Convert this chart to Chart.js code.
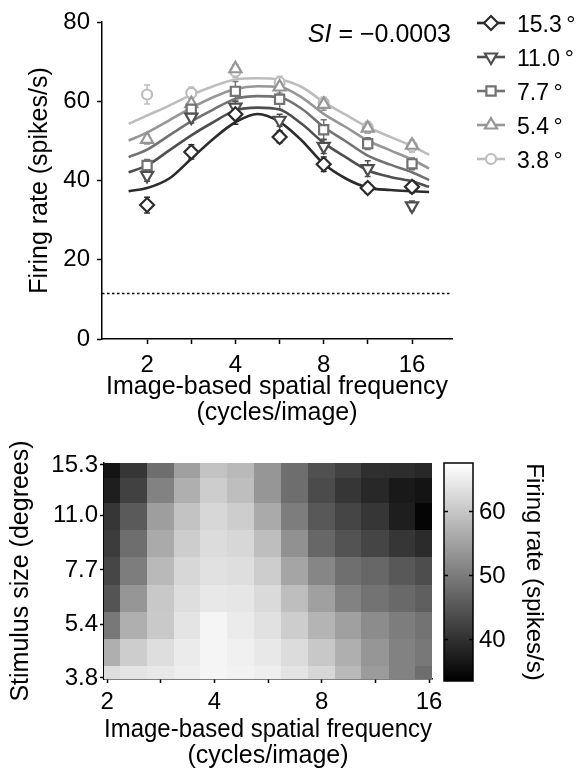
<!DOCTYPE html>
<html>
<head>
<meta charset="utf-8">
<script src="https://cdn.jsdelivr.net/npm/chart.js@4.4.1/dist/chart.umd.min.js"></script>
<style>
  html, body { margin: 0; padding: 0; background: #fff; }
  #tuning { position: absolute; left: 0; top: 0; }
  #heat { position: absolute; left: 0; top: 430px; }
</style>
</head>
<body>
<canvas id="tuning" width="584" height="430"></canvas>
<canvas id="heat" width="584" height="339"></canvas>
<script>
// Spatial frequency tuning at five stimulus sizes + size x SF heat map

// ---------------------------------------------------------------------------
// Data
// ---------------------------------------------------------------------------
const sfTicks = [2, 2.83, 4, 5.66, 8, 11.3, 16];
const sfLabels = ['2', '', '4', '', '8', '', '16'];

// measured points (spikes/s), one array per stimulus size
const sfData = [2, 2.83, 4, 5.66, 8, 11.3, 16];
const rate153 = [33.8, 47.2, 56.7, 51.0, 44.1, 38.1, 38.4];
const rate110 = [41.3, 56.0, 58.5, 55.2, 48.6, 43.0, 33.6];
const rate77 = [43.8, 58.0, 62.5, 60.5, 52.8, 49.3, 44.2];
const rate54 = [50.4, 59.4, 68.2, 63.6, 59.2, 53.2, 48.9];
const rate38 = [61.7, 62.1, 67.5, 64.8, 59.6, 53.4, 48.6];

const err153 = [2.0, 1.8, 2.5, 1.5, 1.8, 1.2, 1.5];
const err110 = [1.5, 1.5, 1.5, 1.5, 1.8, 2.0, 1.2];
const err77 = [1.5, 1.5, 2.5, 2.5, 2.5, 1.5, 1.5];
const err54 = [1.2, 1.5, 1.0, 1.5, 1.5, 1.2, 1.2];
const err38 = [2.4, 1.5, 1.5, 1.5, 1.5, 1.5, 1.5];

// fitted curves
const curveX = [1.73, 2, 2.38, 2.83, 3.36, 4, 4.76, 5.66, 6.73, 8, 9.51, 11.3, 13.5, 16, 18.3];
const fit153 = [37.3, 38.1, 40.5, 45.5, 50.5, 54.7, 56.8, 54.8, 50.1, 44.2, 40.5, 38.2, 37.6, 37.3, 37.1];
const fit110 = [42.1, 43.8, 47.6, 51.4, 54.7, 57.7, 58.4, 57.9, 54.3, 49.5, 45.9, 42.6, 40.9, 39.8, 38.4];
const fit77 = [45.9, 47.8, 51.4, 54.9, 57.9, 60.6, 61.3, 61.0, 58.1, 53.5, 49.9, 46.3, 44.0, 42.1, 40.1];
const fit54 = [50.1, 52.1, 55.2, 58.3, 61.0, 63.1, 63.8, 63.6, 61.0, 56.8, 53.5, 50.1, 47.6, 45.3, 43.0];
const fit38 = [54.3, 56.4, 58.9, 61.6, 63.8, 65.5, 65.8, 65.5, 63.6, 59.8, 56.6, 53.5, 51.0, 48.7, 46.5];

const baselineRate = 11.5;
const siText = ' = \u22120.0003';

// heat map grid (spikes/s), rows from 3.8 deg (bottom) to 15.3 deg (top)
const heatSF = [2, 2.38, 2.83, 3.36, 4, 4.76, 5.66, 6.73, 8, 9.51, 11.3, 13.5, 16];
const heatSizes = [3.8, 4.5, 5.4, 6.4, 7.7, 9.2, 11.0, 13.0, 15.3];
const sizeTicks = [3.8, 5.4, 7.7, 11.0, 15.3];
const sizeLabels = ['3.8', '5.4', '7.7', '11.0', '15.3'];
const row38 = [63.2, 64.0, 64.6, 65.3, 66.3, 65.9, 65.3, 64.0, 62.3, 58.3, 54.3, 51.0, 48.4];
const row45 = [57.0, 61.0, 63.2, 65.0, 66.3, 65.6, 64.6, 63.0, 60.3, 57.0, 53.7, 51.0, 49.7];
const row54 = [49.7, 57.0, 60.5, 64.0, 66.3, 65.0, 63.6, 61.0, 57.7, 55.0, 52.4, 50.4, 49.0];
const row64 = [45.0, 53.7, 60.3, 63.2, 64.6, 64.3, 62.7, 59.0, 55.0, 51.0, 49.0, 47.7, 46.4];
const row77 = [43.1, 50.4, 58.3, 62.3, 63.6, 63.2, 61.0, 55.7, 51.5, 48.5, 47.5, 45.5, 44.0];
const row92 = [41.8, 48.4, 56.3, 61.0, 63.0, 62.3, 59.0, 53.0, 47.5, 44.8, 43.0, 41.0, 39.5];
const row110 = [41.0, 45.7, 54.8, 59.6, 62.3, 61.0, 56.3, 50.4, 45.5, 43.0, 41.0, 37.8, 34.5];
const row130 = [37.8, 42.4, 51.0, 57.0, 61.0, 59.0, 53.7, 48.4, 43.7, 41.0, 39.1, 37.1, 36.5];
const row153 = [36.5, 41.0, 48.4, 55.0, 59.6, 58.3, 53.7, 48.4, 44.4, 42.4, 40.0, 39.8, 39.1];
const heatRows = [row38, row45, row54, row64, row77, row92, row110, row130, row153];

const cbMin = 33.8;
const cbMax = 67.6;
const cbTicks = [40, 50, 60];

// ---------------------------------------------------------------------------
// Styles
// ---------------------------------------------------------------------------
const FONT = "'Liberation Sans', Arial, Helvetica, sans-serif";
Chart.defaults.font.family = FONT;
Chart.defaults.font.size = 24;
Chart.defaults.color = '#000';

const series = [
    { label: '15.3\u2009\u00b0', mean: rate153, err: err153, fit: fit153, color: '#2b2b2b', style: 'rectRot', radius: 7, rotation: 0 },
    { label: '11.0\u2009\u00b0', mean: rate110, err: err110, fit: fit110, color: '#4f4f4f', style: 'triangle', radius: 7, rotation: 180 },
    { label: '7.7\u2009\u00b0', mean: rate77, err: err77, fit: fit77, color: '#727272', style: 'rect', radius: 6.5, rotation: 0 },
    { label: '5.4\u2009\u00b0', mean: rate54, err: err54, fit: fit54, color: '#969696', style: 'triangle', radius: 7, rotation: 0 },
    { label: '3.8\u2009\u00b0', mean: rate38, err: err38, fit: fit38, color: '#bdbdbd', style: 'circle', radius: 5, rotation: 0 }
];

const axisGrid = { drawOnChartArea: false, drawTicks: true, tickLength: 5, tickColor: '#000', tickWidth: 1.5 };
const axisBorder = { color: '#000', width: 1.5 };
const titleFont = { size: 25, lineHeight: 1.04 };

// ============================================================================
// 1. Tuning curves
// ============================================================================
const markerSets = series.map(s => ({
    data: sfData.map((x, i) => ({ x: x, y: s.mean[i] })),
    showLine: false,
    pointStyle: s.style,
    pointRadius: s.radius,
    pointRotation: s.rotation,
    pointBorderWidth: 2.2,
    pointBorderColor: s.color,
    pointBackgroundColor: '#fff',
    order: 0
}));
const curveSets = series.map(s => ({
    data: curveX.map((x, i) => ({ x: x, y: s.fit[i] })),
    showLine: true,
    pointRadius: 0,
    borderColor: s.color,
    borderWidth: 2.6,
    cubicInterpolationMode: 'monotone',
    order: 1
}));

const tuningExtras = {
    id: 'tuningExtras',
    beforeDatasetsDraw(chart) {
        const { ctx, chartArea, scales: { x, y } } = chart;
        ctx.save();
        // spontaneous rate
        ctx.strokeStyle = '#000';
        ctx.lineWidth = 1.4;
        ctx.setLineDash([2.5, 2.5]);
        const yb = y.getPixelForValue(baselineRate);
        ctx.beginPath();
        ctx.moveTo(chartArea.left, yb);
        ctx.lineTo(chartArea.right, yb);
        ctx.stroke();
        ctx.setLineDash([]);
        // error bars
        series.slice().reverse().forEach(s => {
            ctx.strokeStyle = s.color;
            ctx.lineWidth = 1.5;
            sfData.forEach((f, i) => {
                const px = x.getPixelForValue(f);
                const y1 = y.getPixelForValue(s.mean[i] + s.err[i]);
                const y2 = y.getPixelForValue(s.mean[i] - s.err[i]);
                ctx.beginPath();
                ctx.moveTo(px, y1); ctx.lineTo(px, y2);
                ctx.moveTo(px - 3, y1); ctx.lineTo(px + 3, y1);
                ctx.moveTo(px - 3, y2); ctx.lineTo(px + 3, y2);
                ctx.stroke();
            });
        });
        ctx.restore();
    },
    afterDraw(chart) {
        const { ctx } = chart;
        ctx.save();
        // SI annotation
        ctx.textBaseline = 'middle';
        ctx.fillStyle = '#000';
        ctx.font = 'italic 25px ' + FONT;
        const w1 = ctx.measureText('SI').width;
        ctx.font = '25px ' + FONT;
        const w2 = ctx.measureText(siText).width;
        const xs = 451 - w1 - w2;
        ctx.font = 'italic 25px ' + FONT;
        ctx.fillText('SI', xs, 35);
        ctx.font = '25px ' + FONT;
        ctx.fillText(siText, xs + w1, 35);
        // legend
        ctx.font = '23px ' + FONT;
        series.forEach((s, k) => {
            const ly = 23 + k * 34;
            ctx.strokeStyle = s.color;
            ctx.lineWidth = 2.6;
            ctx.beginPath();
            ctx.moveTo(477, ly); ctx.lineTo(505, ly);
            ctx.stroke();
            ctx.fillStyle = '#fff';
            ctx.lineWidth = 2.2;
            Chart.helpers.drawPoint(ctx, { pointStyle: s.style, radius: s.radius, rotation: s.rotation, borderWidth: 2.2 }, 491, ly);
            ctx.fillStyle = '#000';
            ctx.textAlign = 'left';
            ctx.fillText(s.label, 517, ly + 3);
        });
        ctx.restore();
    }
};

new Chart(document.getElementById('tuning'), {
    type: 'scatter',
    data: { datasets: [...markerSets, ...curveSets] },
    options: {
        responsive: false,
        animation: false,
        layout: { padding: { top: 22, right: 132, left: 0, bottom: 0 } },
        plugins: { legend: { display: false }, tooltip: { enabled: false } },
        scales: {
            x: {
                type: 'logarithmic',
                min: 1.404,
                max: 21.9,
                afterBuildTicks: s => { s.ticks = sfTicks.map(v => ({ value: v })); },
                afterFit: s => { s.height = 91; },
                ticks: { autoSkip: false, maxRotation: 0, padding: 7, callback: v => sfLabels[sfTicks.indexOf(v)] },
                grid: axisGrid,
                border: axisBorder,
                title: {
                    display: true,
                    text: ['Image-based spatial frequency', '(cycles/image)'],
                    padding: { top: 0, bottom: 4 },
                    font: titleFont
                }
            },
            y: {
                min: 0,
                max: 80,
                afterFit: s => { s.width = 102; },
                ticks: { stepSize: 20, padding: 7 },
                grid: axisGrid,
                border: axisBorder,
                title: {
                    display: true,
                    text: 'Firing rate (spikes/s)',
                    padding: { top: 27 },
                    font: titleFont
                }
            }
        }
    },
    plugins: [tuningExtras]
});

// ============================================================================
// 2. Heat map: stimulus size x spatial frequency
// ============================================================================
function cellBounds(centers, lo, hi) {
    return centers.map((c, i) => [
        i === 0 ? lo : Math.sqrt(centers[i - 1] * c),
        i === centers.length - 1 ? hi : Math.sqrt(c * centers[i + 1])
    ]);
}
function grey(v) {
    const t = Math.max(0, Math.min(1, (v - cbMin) / (cbMax - cbMin)));
    const g = Math.round(t * 255);
    return 'rgb(' + g + ',' + g + ',' + g + ')';
}

const heatLayer = {
    id: 'heatLayer',
    beforeDatasetsDraw(chart) {
        const { ctx, chartArea, scales: { x, y } } = chart;
        const xb = cellBounds(heatSF, x.min, x.max);
        const yb = cellBounds(heatSizes, y.min, y.max);
        ctx.save();
        ctx.beginPath();
        ctx.rect(chartArea.left, chartArea.top, chartArea.right - chartArea.left, chartArea.bottom - chartArea.top);
        ctx.clip();
        heatRows.forEach((row, j) => {
            const top = Math.floor(y.getPixelForValue(yb[j][1]));
            const bot = Math.ceil(y.getPixelForValue(yb[j][0]));
            row.forEach((v, i) => {
                const l = Math.floor(x.getPixelForValue(xb[i][0]));
                const r = Math.ceil(x.getPixelForValue(xb[i][1]));
                ctx.fillStyle = grey(v);
                ctx.fillRect(l, top, r - l, bot - top);
            });
        });
        ctx.restore();
    },
    afterDraw(chart) {
        const { ctx, chartArea, scales: { cb } } = chart;
        const top = cb.getPixelForValue(cbMax);
        const bot = cb.getPixelForValue(cbMin) + 2;
        const x0 = chartArea.right + 12;
        const w = 29;
        ctx.save();
        const grad = ctx.createLinearGradient(0, bot, 0, top);
        grad.addColorStop(0, '#000');
        grad.addColorStop(1, '#fff');
        ctx.fillStyle = grad;
        ctx.fillRect(x0, top, w, bot - top);
        ctx.strokeStyle = '#000';
        ctx.lineWidth = 1.5;
        ctx.strokeRect(x0, top, w, bot - top);
        ctx.fillStyle = '#000';
        ctx.font = '24px ' + FONT;
        ctx.textAlign = 'left';
        ctx.textBaseline = 'middle';
        cbTicks.forEach(v => {
            const ty = cb.getPixelForValue(v);
            ctx.beginPath();
            ctx.moveTo(x0, ty); ctx.lineTo(x0 + 4, ty);
            ctx.moveTo(x0 + w, ty); ctx.lineTo(x0 + w - 4, ty);
            ctx.stroke();
            ctx.fillText(String(v), x0 + w + 6, ty + 1);
        });
        ctx.font = '24px ' + FONT;
        ctx.translate(534, (top + bot) / 2);
        ctx.rotate(Math.PI / 2);
        ctx.textAlign = 'center';
        ctx.fillText('Firing rate (spikes/s)', 0, 0);
        ctx.restore();
    }
};

new Chart(document.getElementById('heat'), {
    type: 'scatter',
    data: { datasets: [] },
    options: {
        responsive: false,
        animation: false,
        layout: { padding: { top: 33, right: 152, left: 0, bottom: 0 } },
        plugins: { legend: { display: false }, tooltip: { enabled: false } },
        scales: {
            x: {
                type: 'logarithmic',
                min: 1.96,
                max: 16.3,
                z: 1,
                afterBuildTicks: s => { s.ticks = sfTicks.map(v => ({ value: v })); },
                afterFit: s => { s.height = 90; },
                ticks: { autoSkip: false, maxRotation: 0, padding: 5, callback: v => sfLabels[sfTicks.indexOf(v)] },
                grid: { ...axisGrid, tickLength: 4 },
                border: axisBorder,
                title: {
                    display: true,
                    text: ['Image-based spatial frequency', '(cycles/image)'],
                    padding: { top: 0, bottom: 0 },
                    font: titleFont
                }
            },
            y: {
                type: 'logarithmic',
                min: 3.775,
                max: 15.5,
                z: 1,
                afterBuildTicks: s => { s.ticks = sizeTicks.map(v => ({ value: v })); },
                afterFit: s => { s.width = 104; },
                ticks: { autoSkip: false, padding: 2, callback: v => sizeLabels[sizeTicks.indexOf(v)] },
                grid: { ...axisGrid, tickLength: 4 },
                border: axisBorder,
                title: {
                    display: true,
                    text: 'Stimulus size (degrees)',
                    padding: { top: 8 },
                    font: titleFont
                }
            },
            cb: { type: 'linear', axis: 'y', position: 'right', display: false, min: cbMin, max: cbMax }
        }
    },
    plugins: [heatLayer]
});
</script>
</body>
</html>
